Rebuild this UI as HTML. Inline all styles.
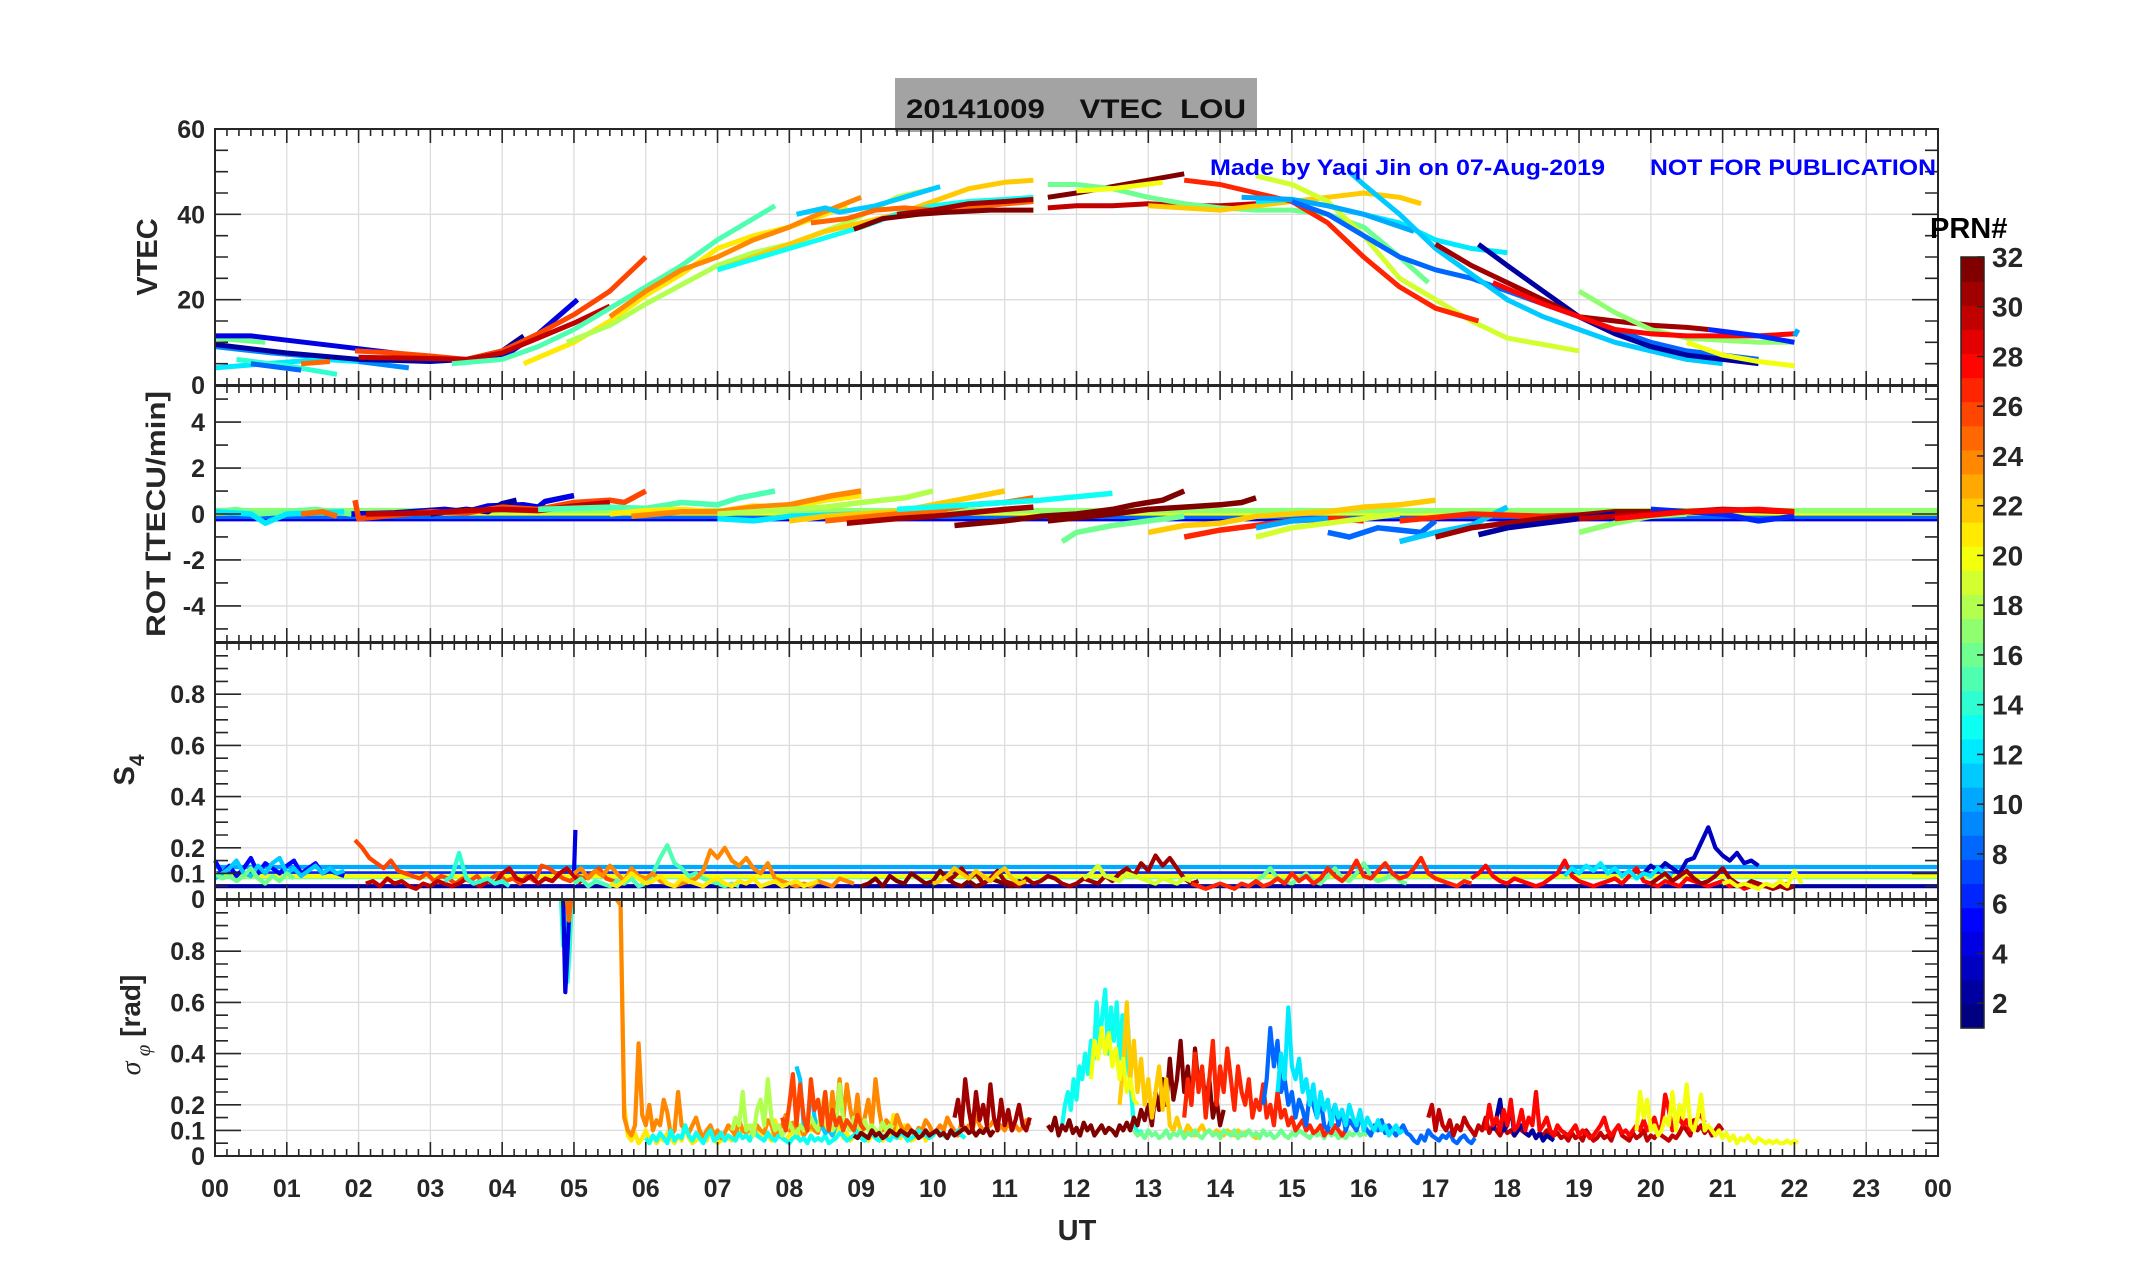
<!DOCTYPE html>
<html><head><meta charset="utf-8"><title>20141009 VTEC LOU</title>
<style>
html,body{margin:0;padding:0;background:#fff;}
svg{display:block;font-family:"Liberation Sans",Arial,sans-serif;}
</style></head>
<body>
<svg id="chart" width="2153" height="1286" viewBox="0 0 2153 1286" xmlns="http://www.w3.org/2000/svg">
<rect width="2153" height="1286" fill="#fff"/>
<rect x="895" y="78" width="362" height="54" fill="#a3a3a3"/>
<text x="906" y="118" font-size="27" font-weight="bold" fill="#111" textLength="340" lengthAdjust="spacingAndGlyphs" xml:space="preserve">20141009    VTEC  LOU</text>
<g id="grid"></g>
<g id="series"></g>
<g id="axes"></g>
<text x="1210" y="175" font-size="22" font-weight="bold" fill="#0000ff" textLength="395" lengthAdjust="spacingAndGlyphs">Made by Yaqi Jin on 07-Aug-2019</text>
<text x="1650" y="175" font-size="22" font-weight="bold" fill="#0000ff" textLength="286" lengthAdjust="spacingAndGlyphs">NOT FOR PUBLICATION</text>
<text transform="translate(157,257) rotate(-90)" text-anchor="middle" font-size="29" font-weight="bold" fill="#262626">VTEC</text>
<text transform="translate(165,514) rotate(-90)" text-anchor="middle" font-size="27" font-weight="bold" fill="#262626" textLength="246" lengthAdjust="spacingAndGlyphs">ROT [TECU/min]</text>
<text transform="translate(134,770) rotate(-90)" text-anchor="middle" font-size="29" font-weight="bold" fill="#262626">S<tspan font-size="21" dy="10">4</tspan></text>
<text transform="translate(140,1025) rotate(-90)" text-anchor="middle" font-size="28" fill="#262626"><tspan font-family="Liberation Serif,serif" font-style="italic">σ</tspan><tspan font-family="Liberation Serif,serif" font-style="italic" font-size="21" dy="10"> φ</tspan><tspan dy="-10" font-weight="bold"> [rad]</tspan></text>
<text x="1077" y="1240" text-anchor="middle" font-size="29" font-weight="bold" fill="#262626">UT</text>
<text x="1930" y="238" font-size="29" font-weight="bold" fill="#000">PRN#</text>
<g id="cbar"></g>
</svg>
<script>
// ---------- data ----------
const hourLabels = ['00','01','02','03','04','05','06','07','08','09','10','11','12','13','14','15','16','17','18','19','20','21','22','23','00'];
const vtecTicks = [0,20,40,60];
const rotTicks = [-4,-2,0,2,4];
const s4Ticks = [0,0.1,0.2,0.4,0.6,0.8];
const sigTicks = [0,0.1,0.2,0.4,0.6,0.8];
const prnTicks = [2,4,6,8,10,12,14,16,18,20,22,24,26,28,30,32];

// VTEC arcs: [prn, [[hour,value],...]]
const vtecArcs = [
 [16,[[0,11],[0.7,10]]],
 [9,[[0,9],[0.8,7.5],[1.5,6.5],[2,5.5],[2.7,4]]],
 [12,[[0,4],[0.7,5],[1.5,6],[2,5.5]]],
 [14,[[0.3,6],[1,4.5],[1.7,2.5]]],
 [8,[[0.5,5],[1.2,3.5]]],
 [25,[[1.2,5],[1.6,5.5]]],
 [4,[[0,11.5],[0.5,11.5],[1,10.5],[2,8.5],[3,6.5],[3.5,5.5],[4,6.5],[4.5,12],[5.05,20]]],
 [2,[[0,9.5],[1,7.5],[2,6],[3,5.5],[3.5,6],[4,8],[4.3,11.5]]],
 [26,[[1.95,8],[2.5,7.5],[3,6.8],[3.5,6],[4,8],[4.5,12],[5,16.5],[5.5,22],[6,30]]],
 [30,[[2,6.5],[3,6.2],[3.5,6],[4,7.5],[4.5,11],[5,14.5],[5.5,18.5]]],
 [15,[[3.3,5],[4,6],[4.5,9],[5,13],[5.5,18],[6,23],[6.5,28],[7,34],[7.5,39],[7.8,42]]],
 [21,[[4.3,5],[5,10],[5.5,15],[6,21],[6.5,26],[7,32],[7.5,35],[8,37],[8.5,40],[8.8,42]]],
 [18,[[4.9,10],[5.5,14],[6,19],[6.5,23.5],[7,28],[7.5,31],[8,33],[8.8,38],[9.5,44],[10,46]]],
 [24,[[5.5,16],[6,22],[6.5,27],[7,30],[7.5,34],[8,37],[8.4,40],[8.7,42],[9,44]]],
 [22,[[7,27],[7.5,30],[8,33],[8.5,36],[9,38],[9.5,40],[10,43],[10.5,46],[11,47.5],[11.4,48]]],
 [13,[[7,27],[8,32],[9,37],[9.5,40],[10,42],[10.5,43],[11,43.5],[11.4,44]]],
 [11,[[8.1,40],[8.5,41.5],[8.7,40.5],[9.2,42],[9.6,44],[10.1,46.5]]],
 [25,[[8.3,38],[8.8,39],[9.2,41],[9.6,41.5],[10,41],[10.7,42],[11.4,43]]],
 [31,[[9.5,40],[10,41],[10.5,42.5],[11,43],[11.4,43.5]]],
 [32,[[8.9,36.5],[9.3,39],[9.8,40],[10.2,40.5],[10.8,41],[11.4,41]]],
 [32,[[11.6,44],[12,45],[12.5,46.5],[13,48],[13.5,49.5]]],
 [30,[[11.6,41.5],[12,42],[12.5,42],[13,42.5],[13.5,42],[14,42],[14.5,42.5]]],
 [16,[[11.6,47],[12,47],[12.5,46],[13,44],[13.5,42.5],[14,41.5],[14.5,41],[15,41],[15.5,40],[16,37],[16.5,30],[16.9,24]]],
 [20,[[12,45.5],[12.5,46],[13.2,47.5]]],
 [22,[[13,42],[14,41],[14.5,42],[15,43],[15.5,44],[16,45],[16.5,44],[16.8,42.5]]],
 [19,[[14.5,49],[15,47],[15.5,43],[16,35],[16.5,25],[17,20],[17.5,15],[18,11],[19,8]]],
 [27,[[13.5,48],[14,47],[14.5,45],[15,43],[15.5,38],[16,30],[16.5,23],[17,18],[17.6,15]]],
 [12,[[14.5,43],[15,43.5],[15.5,42],[16,40],[16.5,38],[17,34],[17.5,32],[18,31]]],
 [10,[[14.3,44],[15,43.5],[15.5,42],[16,40],[16.7,36]]],
 [8,[[15,43],[15.5,40],[16,35],[16.5,30],[17,27],[17.5,25],[18,22],[18.5,19],[19,16],[19.5,13],[20,10],[20.5,8],[21,7],[21.5,6]]],
 [11,[[15.8,50],[16,47],[16.5,40],[17,32],[17.5,26],[18,20],[18.5,16],[19,13],[19.5,10],[20,8],[20.5,6],[21,5]]],
 [2,[[17.6,33],[18,28],[18.5,22],[19,16],[19.5,12],[20,9],[20.5,7],[21,6],[21.5,5]]],
 [31,[[17,33],[17.5,28],[18,24],[18.5,20],[19,16],[19.5,15],[20,14],[20.5,13.5],[20.8,13]]],
 [17,[[19,22],[19.5,17],[20,13],[20.5,11],[21,10.5],[21.5,10],[22,10]]],
 [20,[[20.5,10],[21,7],[21.5,5.5],[22,4.5]]],
 [28,[[17.8,24],[18.5,19],[19,16],[19.5,13],[20,12],[20.5,11.5],[21,11.5],[21.5,11.5],[22,12]]],
 [6,[[20.8,13],[21.5,11.5],[22,10]]],
 [10,[[22,11.5],[22.05,13]]]
];

// ROT arcs: [prn, [[hour,value],...]]
const rotArcs = [
 [4,[[0,-0.2],[24,-0.2]]],
 [8,[[0,-0.1],[24,-0.1]]],
 [20,[[0,0.05],[24,0.05]]],
 [17,[[0,0.15],[24,0.15]]],
 [16,[[0,0.1],[0.3,0.2],[0.6,0],[1,0.1],[1.4,0.2],[1.9,0]]],
 [12,[[0,0.1],[0.5,0],[0.7,-0.4],[1,0],[1.8,0.1]]],
 [25,[[1.2,0],[1.5,0.1],[1.7,-0.1]]],
 [4,[[1.9,0],[2.5,0.05],[3.2,0.2],[3.5,0.1],[3.8,0.35],[4.3,0.4],[4.5,0.3],[4.6,0.55],[5,0.8]]],
 [2,[[3,0],[3.5,0.2],[3.8,0.1],[4,0.45],[4.2,0.6]]],
 [26,[[1.95,0.6],[2,-0.2],[3,0.1],[3.5,0.05],[4,0.3],[4.5,0.2],[5,0.5],[5.5,0.6],[5.7,0.5],[6,1]]],
 [30,[[2.1,0],[3,0.05],[3.5,0.15],[4,0.2],[4.5,0.15],[5,0.35],[5.5,0.5]]],
 [15,[[4.5,0.2],[5.5,0.3],[6,0.25],[6.5,0.5],[7,0.4],[7.3,0.7],[7.8,1]]],
 [21,[[5.5,0],[6,0.15],[6.5,0.2],[7,0.1],[7.5,0.35],[8,0.3],[8.5,0.6],[9,0.8]]],
 [24,[[5.8,-0.1],[6.5,0.1],[7,0.1],[7.5,0.3],[8,0.4],[8.6,0.8],[9,1]]],
 [18,[[7,0],[7.5,0.1],[8,0.2],[8.5,0.3],[9,0.5],[9.6,0.7],[10,1]]],
 [12,[[7,-0.2],[7.5,-0.3],[8,-0.1],[9,0]]],
 [22,[[8,-0.3],[8.5,-0.1],[9,0],[9.5,0.1],[10,0.4],[10.5,0.7],[11,1]]],
 [25,[[8.5,-0.3],[9.5,0],[10,0.1],[10.5,0.4],[11,0.5],[11.4,0.7]]],
 [13,[[9.5,0.2],[10.5,0.4],[11.5,0.6],[12.5,0.9]]],
 [31,[[8.8,-0.4],[9.5,-0.2],[10,-0.1],[11,0.2],[11.4,0.3]]],
 [32,[[10.3,-0.5],[11,-0.3],[11.5,-0.1],[12,0],[12.5,0.2],[12.8,0.4],[13.2,0.6],[13.5,1]]],
 [32,[[11.6,-0.3],[12.5,0],[13,0.2],[13.5,0.3],[14,0.4],[14.3,0.5],[14.5,0.7]]],
 [16,[[11.8,-1.2],[12,-0.8],[12.5,-0.5],[13,-0.3],[13.5,-0.1]]],
 [22,[[13,-0.8],[13.5,-0.5],[14,-0.4],[14.5,-0.1],[15,0],[15.5,0.1],[16,0.3],[16.5,0.4],[17,0.6]]],
 [27,[[13.5,-1],[14,-0.7],[14.5,-0.5],[15,-0.3],[15.6,-0.2],[16,-0.3]]],
 [10,[[14.5,-0.6],[15,-0.3],[15.5,-0.2]]],
 [19,[[14.5,-1],[15,-0.6],[15.5,-0.4],[16,-0.2],[16.5,0]]],
 [8,[[15.5,-0.8],[15.8,-1],[16.2,-0.6],[16.8,-0.8],[17,-0.3]]],
 [11,[[16.5,-1.2],[17,-0.8],[17.5,-0.5],[18,0.3]]],
 [27,[[16.5,-0.3],[17.5,0],[18.5,-0.1],[19.5,0]]],
 [31,[[17,-1],[17.5,-0.6],[18,-0.4],[18.5,-0.2],[19.5,0.1],[20,0.1]]],
 [2,[[17.6,-0.9],[18,-0.6],[19,-0.2],[19.5,0]]],
 [17,[[19,-0.8],[19.5,-0.4],[20,-0.1],[20.5,0]]],
 [6,[[20,0.2],[21,0],[21.5,-0.3],[22,-0.1]]],
 [30,[[19,-0.2],[20,0],[21,0.2],[22,0.1]]],
 [28,[[19.5,-0.2],[20.5,0.1],[21.5,0.2],[22,0.1]]]
];

// S4 series: [prn, startHour, stepHour, values]
const s4Series = [
 [2,0,24,[0.05,0.05]],
 [6,0,24,[0.1,0.1]],
 [10,0,24,[0.125,0.125]],
 [16,0,24,[0.085,0.085]],
 [20,0,24,[0.09,0.09]],
 [5,0,0.1,[0.15,0.1,0.13,0.09,0.12,0.16,0.1,0.14,0.12,0.1,0.13,0.15,0.1,0.12,0.14,0.1,0.11,0.1,0.09]],
 [11,0,0.1,[0.08,0.1,0.12,0.15,0.1,0.09,0.13,0.1,0.14,0.16,0.1,0.12,0.09,0.11,0.13,0.1,0.12,0.1,0.11]],
 [16,0,0.1,[0.1,0.08,0.09,0.07,0.09,0.12,0.08,0.06,0.09,0.07,0.1,0.08]],
 [26,1.95,0.1,[0.23,0.2,0.16,0.14,0.12,0.15,0.11,0.1,0.09,0.08,0.1,0.07,0.09,0.08,0.06,0.08,0.07,0.09,0.06,0.08,0.1,0.07,0.08,0.06,0.09,0.07,0.13,0.12,0.1,0.08,0.07,0.09,0.08,0.1,0.12,0.08,0.07,0.06,0.08,0.1]],
 [30,2.1,0.1,[0.06,0.07,0.05,0.08,0.06,0.07,0.05,0.04,0.06,0.05,0.07,0.06,0.05,0.06,0.08,0.06,0.05,0.07,0.06,0.1,0.12,0.08,0.07,0.09,0.06,0.08,0.07,0.1,0.12,0.09,0.06]],
 [4,5.0,0.02,[0.1,0.27]],
 [14,3.2,0.1,[0.07,0.09,0.18,0.08,0.06,0.07,0.08,0.06,0.07,0.05]],
 [15,5,0.1,[0.06,0.08,0.05,0.07,0.06,0.05,0.07,0.06,0.08,0.05,0.06,0.1,0.16,0.21,0.14,0.12,0.09,0.1,0.08,0.07,0.06,0.05,0.06,0.05]],
 [24,5,0.1,[0.1,0.12,0.08,0.11,0.09,0.13,0.1,0.07,0.12,0.09,0.08,0.1,0.07,0.06,0.05,0.06,0.07,0.08,0.11,0.19,0.16,0.2,0.15,0.13,0.16,0.12,0.1,0.14,0.08,0.07,0.06,0.05,0.06,0.05,0.07,0.06,0.05,0.08,0.07,0.06]],
 [21,5.5,0.1,[0.06,0.05,0.07,0.1,0.08,0.06,0.07,0.09,0.06,0.05,0.08,0.07,0.06,0.05,0.07,0.08,0.06,0.05,0.07,0.06,0.08,0.05,0.06,0.07,0.05,0.06,0.07,0.05,0.06,0.07]],
 [32,9,0.1,[0.05,0.06,0.08,0.05,0.09,0.07,0.06,0.1,0.08,0.06,0.07,0.11,0.08,0.06,0.05,0.07,0.05,0.06,0.08,0.07,0.06,0.05,0.07,0.06]],
 [31,10.2,0.1,[0.07,0.09,0.12,0.08,0.1,0.06,0.08,0.11,0.07,0.06,0.05,0.08,0.06,0.07,0.09,0.08,0.06,0.05,0.06,0.08,0.07,0.06,0.09,0.07,0.1,0.12,0.09,0.14,0.11,0.17,0.13,0.16,0.12,0.08,0.06,0.07]],
 [22,10,0.1,[0.06,0.07,0.09,0.12,0.1,0.08,0.11,0.09,0.07,0.1,0.12,0.08,0.06,0.07]],
 [19,12.1,0.1,[0.08,0.1,0.13,0.09,0.08,0.07,0.1,0.09,0.08,0.07,0.06,0.08,0.07,0.06,0.08,0.07]],
 [16,14.5,0.1,[0.07,0.09,0.12,0.08,0.07,0.06,0.08,0.1,0.07,0.06,0.09,0.12,0.08,0.07,0.1,0.14,0.09,0.07,0.08,0.1,0.07,0.06]],
 [27,13.6,0.1,[0.06,0.05,0.04,0.05,0.06,0.05,0.04,0.06,0.05,0.07,0.05,0.06,0.08,0.06,0.1,0.07,0.09,0.06,0.08,0.12,0.09,0.07,0.1,0.15,0.09,0.08,0.11,0.14,0.1,0.08,0.09,0.12,0.16,0.1,0.08,0.07,0.06,0.05,0.07,0.06]],
 [28,17.5,0.1,[0.08,0.1,0.13,0.09,0.07,0.06,0.08,0.07,0.06,0.05,0.06,0.08,0.1,0.15,0.09,0.07,0.06,0.05,0.06,0.07,0.08,0.06,0.09,0.12,0.07,0.06,0.05,0.07,0.06,0.05,0.08,0.07,0.06,0.05,0.06,0.07,0.05,0.06,0.04,0.05,0.06,0.05,0.04,0.05,0.06]],
 [3,19.9,0.1,[0.1,0.13,0.11,0.14,0.12,0.1,0.15,0.16,0.22,0.28,0.2,0.17,0.15,0.18,0.14,0.15,0.13]],
 [12,18.8,0.1,[0.09,0.12,0.1,0.13,0.11,0.14,0.1,0.12,0.09,0.11,0.08,0.1,0.09,0.12,0.1,0.09]],
 [31,20,0.1,[0.06,0.08,0.1,0.07,0.09,0.11,0.08,0.06,0.07,0.09,0.12,0.08,0.06,0.05,0.07,0.06,0.05,0.04,0.05,0.04,0.05]],
 [20,21,0.1,[0.06,0.07,0.05,0.06,0.05,0.04,0.06,0.05,0.07,0.05,0.11,0.06]]
];

// sigma-phi series: [prn, startHour, stepHour, values]
const sigSeries = [
 [14,4.82,0.03,[1,0.82,0.95,0.68,0.8,1]],
 [4,4.85,0.03,[1,0.64,0.8,1]],
 [25,4.9,0.03,[1,0.92,1]],
 [21,5.65,0.05,[0.95,0.2,0.08,0.06,0.09,0.05,0.07,0.1,0.06,0.08,0.05,0.07,0.06,0.09,0.07,0.05,0.08,0.06,0.12,0.07,0.05,0.06,0.1,0.08,0.06,0.11,0.07,0.05,0.06,0.08,0.07,0.06,0.09,0.1,0.07,0.08,0.06,0.12,0.09,0.07,0.1,0.08,0.06,0.14,0.09,0.07,0.06,0.08,0.1,0.07,0.09,0.11,0.12,0.1,0.14,0.12,0.15,0.1,0.12,0.08,0.1,0.13,0.07,0.09,0.06,0.08,0.1,0.12,0.07,0.06,0.08,0.1,0.07,0.06,0.09,0.07,0.16,0.1,0.07,0.12,0.08,0.06,0.07,0.08,0.1,0.06,0.09,0.07]],
 [24,5.6,0.05,[1,0.98,0.15,0.1,0.08,0.12,0.44,0.16,0.12,0.2,0.1,0.14,0.12,0.22,0.17,0.08,0.1,0.25,0.12,0.1,0.09,0.12,0.15,0.1,0.07,0.1,0.12,0.08,0.1,0.07,0.09,0.12,0.1,0.08,0.14,0.1,0.09,0.11,0.08,0.12,0.1,0.09,0.14,0.12,0.08,0.1,0.12,0.16,0.1,0.13,0.09,0.12,0.08,0.1,0.12,0.1,0.09,0.14,0.22,0.1,0.25,0.12,0.3,0.14,0.28,0.18,0.12,0.24,0.1,0.15,0.22,0.12,0.3,0.18,0.1,0.14,0.12,0.1,0.16,0.12,0.09,0.12,0.1,0.08,0.11,0.1,0.14,0.12,0.09,0.1,0.12,0.1,0.15,0.12,0.1,0.08,0.13,0.1,0.12,0.1,0.16,0.12,0.1,0.11,0.12,0.14,0.1,0.12,0.1,0.13,0.1,0.12,0.1,0.11,0.14,0.12]],
 [13,6,0.05,[0.07,0.05,0.08,0.06,0.09,0.07,0.05,0.1,0.06,0.08,0.07,0.12,0.08,0.06,0.09,0.07,0.05,0.08,0.1,0.06,0.07,0.09,0.06,0.08,0.07,0.06,0.09,0.07,0.08,0.06,0.1,0.08,0.07,0.06,0.09,0.07,0.06,0.08,0.07,0.06,0.05,0.07,0.08,0.06,0.07,0.05,0.08,0.06,0.07,0.06,0.08,0.05,0.06,0.07,0.09,0.08,0.06,0.07,0.08,0.1,0.07,0.06,0.08,0.09,0.07,0.06,0.08,0.07,0.06,0.08,0.07,0.09,0.08,0.06,0.07,0.08,0.1,0.09,0.08,0.07,0.08,0.1,0.09,0.08,0.07,0.09,0.08,0.1,0.08,0.07]],
 [13,11.8,0.04,[0.12,0.2,0.25,0.18,0.3,0.22,0.35,0.3,0.4,0.32,0.45,0.38,0.6,0.42,0.55,0.65,0.4,0.58,0.45,0.6,0.38,0.55,0.3,0.5,0.25,0.12,0.1,0.09,0.1]],
 [11,8.1,0.05,[0.35,0.3,0.12,0.1,0.28,0.15,0.1,0.12,0.09,0.1,0.08,0.12]],
 [18,7.2,0.05,[0.1,0.15,0.12,0.25,0.1,0.12,0.08,0.18,0.22,0.12,0.3,0.15,0.1,0.12,0.08,0.1,0.13,0.1,0.09,0.12,0.1,0.11,0.15,0.12,0.1,0.18,0.25,0.15,0.1,0.12,0.28,0.14,0.12,0.1,0.15,0.12,0.1,0.14,0.1,0.12,0.1,0.09,0.13,0.1,0.12,0.11]],
 [26,7.9,0.05,[0.15,0.1,0.2,0.32,0.12,0.28,0.15,0.1,0.3,0.18,0.22,0.12,0.25,0.1,0.18,0.12,0.15,0.1,0.14,0.12,0.1,0.16,0.12,0.1]],
 [32,8.9,0.05,[0.08,0.07,0.09,0.08,0.07,0.1,0.08,0.09,0.07,0.08,0.1,0.09,0.08,0.1,0.09,0.08,0.1,0.09,0.07,0.08,0.1,0.08,0.09,0.1,0.08,0.09,0.07,0.1,0.08,0.09,0.1,0.11,0.09,0.1,0.08,0.1,0.09,0.11,0.08,0.1]],
 [31,10.3,0.05,[0.15,0.22,0.12,0.3,0.18,0.1,0.25,0.14,0.2,0.12,0.28,0.15,0.1,0.22,0.12,0.18,0.1,0.14,0.2,0.12,0.1,0.15]],
 [32,11.6,0.05,[0.12,0.1,0.15,0.08,0.12,0.1,0.14,0.09,0.11,0.08,0.13,0.1,0.12,0.08,0.1,0.12,0.09,0.11,0.1,0.08,0.12,0.1,0.13,0.1,0.15,0.12,0.18,0.14,0.2,0.12,0.25,0.18,0.3,0.2,0.38,0.22,0.3,0.45,0.25,0.35,0.2,0.42,0.28,0.34,0.2,0.3,0.15,0.22,0.12,0.18]],
 [22,12.6,0.05,[0.2,0.35,0.6,0.3,0.45,0.25,0.38,0.2,0.3,0.15,0.25,0.35,0.18,0.3,0.12,0.1,0.15,0.1,0.08,0.12,0.1,0.08,0.1,0.12,0.09,0.1,0.08,0.1,0.09,0.08,0.1,0.09,0.08,0.1,0.08,0.09,0.1,0.08,0.07,0.09]],
 [20,12.2,0.05,[0.3,0.45,0.38,0.5,0.4,0.48,0.35,0.42,0.3,0.38,0.25,0.3,0.22,0.2]],
 [16,12.8,0.05,[0.1,0.08,0.09,0.07,0.1,0.08,0.09,0.07,0.08,0.1,0.07,0.09,0.08,0.1,0.07,0.09,0.08,0.1,0.08,0.07,0.09,0.1,0.08,0.09,0.07,0.1,0.09,0.08,0.1,0.07,0.09,0.08,0.1,0.08,0.09,0.07,0.1,0.08,0.09,0.07,0.08,0.1,0.08,0.07,0.09,0.08,0.1,0.09,0.08,0.07,0.09,0.08,0.09,0.07,0.1,0.08,0.09,0.07,0.08,0.07,0.09,0.08,0.1,0.08,0.09,0.08]],
 [27,13.5,0.05,[0.15,0.3,0.2,0.4,0.25,0.35,0.15,0.3,0.45,0.2,0.35,0.25,0.42,0.3,0.18,0.35,0.25,0.2,0.3,0.15,0.22,0.18,0.28,0.15,0.2,0.12,0.25,0.15,0.18,0.12,0.15,0.1,0.12,0.14,0.1,0.12,0.09,0.1,0.12,0.08,0.1,0.09,0.12,0.1,0.08,0.1]],
 [8,14.6,0.05,[0.2,0.3,0.5,0.35,0.45,0.25,0.3,0.2,0.25,0.15,0.22,0.18,0.12,0.25,0.2,0.15,0.22,0.12,0.1,0.15,0.2,0.12,0.18,0.1,0.14,0.12,0.1,0.15,0.12,0.1,0.08,0.12,0.1,0.14,0.09,0.12,0.1,0.08,0.1,0.12,0.09,0.08,0.06,0.05,0.08,0.06,0.1,0.08,0.07,0.06,0.08,0.07,0.09,0.06,0.05,0.07,0.08,0.06,0.05,0.07]],
 [12,14.8,0.05,[0.25,0.4,0.3,0.58,0.35,0.3,0.38,0.25,0.3,0.2,0.28,0.15,0.25,0.18,0.22,0.12,0.2,0.15,0.18,0.12,0.2,0.15,0.12,0.18,0.1,0.15,0.12,0.1,0.14,0.1,0.12,0.08,0.1,0.12,0.09,0.1]],
 [30,16.9,0.05,[0.15,0.2,0.1,0.18,0.12,0.1,0.14,0.08,0.12,0.1,0.15,0.12,0.1,0.08,0.12,0.1,0.15,0.09,0.12,0.1,0.08,0.11,0.09,0.1,0.08,0.12,0.1,0.09,0.08,0.1,0.07,0.09,0.08,0.1,0.07,0.08,0.09,0.07,0.08,0.06,0.09,0.07,0.08,0.06,0.1,0.08,0.06,0.07,0.09,0.07,0.08,0.06,0.1,0.12,0.08,0.07,0.06,0.09,0.07,0.08,0.1,0.06,0.08,0.07,0.09,0.08,0.07,0.06,0.08,0.07,0.09,0.12,0.1,0.08,0.14,0.1,0.12,0.09,0.11,0.08,0.1,0.12,0.1]],
 [2,17.8,0.05,[0.1,0.15,0.22,0.1,0.12,0.2,0.08,0.1,0.12,0.09,0.08,0.1,0.07,0.09,0.06,0.08,0.07,0.06]],
 [28,17.7,0.05,[0.1,0.2,0.12,0.15,0.1,0.18,0.12,0.22,0.1,0.12,0.18,0.1,0.15,0.12,0.25,0.1,0.12,0.15,0.1,0.08,0.12,0.1,0.09,0.08,0.1,0.12,0.08,0.1,0.09,0.07,0.08,0.1,0.12,0.15,0.1,0.08,0.1,0.12,0.09,0.1,0.08,0.1,0.12,0.1,0.14,0.1,0.12,0.15,0.1,0.12,0.24,0.18,0.1,0.12,0.15,0.12,0.14,0.1,0.12,0.15,0.16,0.13]],
 [20,19.8,0.05,[0.1,0.25,0.15,0.22,0.1,0.12,0.08,0.1,0.15,0.12,0.25,0.1,0.2,0.15,0.28,0.12,0.1,0.15,0.24,0.1,0.12,0.1,0.08,0.1,0.07,0.09,0.06,0.08,0.05,0.07,0.06,0.08,0.06,0.05,0.07,0.06,0.05,0.06,0.05,0.06,0.05,0.05,0.06,0.05,0.06,0.05]]
];

// ---------- scales ----------
const X0=215, X1=1938, HOURS=24;
const panels = [
 {name:'vtec', top:129, bot:385, min:0, max:60, minor:5},
 {name:'rot', top:386, bot:642, min:-5.57, max:5.57, minor:1},
 {name:'s4', top:643, bot:899, min:0, max:1, minor:0.05},
 {name:'sigma', top:900, bot:1156, min:0, max:1, minor:0.05}
];
function xS(h){return X0 + h*(X1-X0)/HOURS;}
function yS(p,v){return p.bot - (v-p.min)/(p.max-p.min)*(p.bot-p.top);}
function jet(prn){
 const t=(prn-1)/31;
 const c=x=>Math.round(255*Math.max(0,Math.min(1,x)));
 return 'rgb('+c(1.5-Math.abs(4*t-3))+','+c(1.5-Math.abs(4*t-2))+','+c(1.5-Math.abs(4*t-1))+')';
}
const NS='http://www.w3.org/2000/svg';
function mk(tag,attrs,parent){const e=document.createElementNS(NS,tag);for(const k in attrs)e.setAttribute(k,attrs[k]);parent.appendChild(e);return e;}
const gGrid=document.getElementById('grid'), gSer=document.getElementById('series'), gAx=document.getElementById('axes'), gCb=document.getElementById('cbar');

const majorTicks=[vtecTicks,rotTicks,s4Ticks,sigTicks];
panels.forEach((p,pi)=>{
 for(let h=1;h<HOURS;h++){
  const l=mk('line',{x1:xS(h),x2:xS(h),y1:p.top,y2:p.bot,stroke:'#dcdcdc','stroke-width':1.3},gGrid);
  
  
 }
 majorTicks[pi].forEach(v=>{
  const l=mk('line',{x1:X0,x2:X1,y1:yS(p,v),y2:yS(p,v),stroke:'#dcdcdc','stroke-width':1.3},gGrid);
  
  
 });
 const fr=mk('rect',{x:X0,y:p.top,width:X1-X0,height:p.bot-p.top,fill:'none',stroke:'#262626','stroke-width':2},gAx);
 
 
 let d='';
 for(let m=0;m<=HOURS*6;m++){
  const h=m/6, x=xS(h), len=(m%6===0)?14:7;
  d+='M'+x+' '+p.top+'v'+len+'M'+x+' '+p.bot+'v'+(-len);
 }
 for(let k=Math.ceil(p.min/p.minor);k*p.minor<=p.max+1e-9;k++){
  const v=k*p.minor, y=yS(p,v);
  const isMaj=majorTicks[pi].some(t=>Math.abs(t-v)<1e-6);
  const len=isMaj?26:13;
  d+='M'+X0+' '+y+'h'+len+'M'+X1+' '+y+'h'+(-len);
 }
 const tk=mk('path',{d:d,stroke:'#262626','stroke-width':1.6,fill:'none'},gAx);
 
 
 majorTicks[pi].forEach(v=>{
  const t=mk('text',{x:205,y:yS(p,v)+9,'text-anchor':'end','font-size':25,'font-weight':'bold',fill:'#262626'},gAx);
  t.textContent=String(v);
  
  
 });
});
hourLabels.forEach((lab,i)=>{
 const t=mk('text',{x:xS(i),y:1197,'text-anchor':'middle','font-size':25,'font-weight':'bold',fill:'#262626'},gAx);
 t.textContent=lab;
 
 
});

function drawPts(p,prn,pts,w,name){
 const d=pts.map((q,i)=>(i?'L':'M')+xS(q[0]).toFixed(1)+' '+yS(p,Math.max(p.min,Math.min(p.max,q[1]))).toFixed(1)).join('');
 const e=mk('path',{d:d,stroke:jet(prn),'stroke-width':w,fill:'none','stroke-linejoin':'round','stroke-linecap':'butt'},gSer);
 
 
}
vtecArcs.forEach(a=>drawPts(panels[0],a[0],a[1],5,'vtec-arc'));
rotArcs.forEach(a=>drawPts(panels[1],a[0],a[1],5.5,'rot-arc'));
s4Series.forEach(s=>drawPts(panels[2],s[0],s[3].map((v,i)=>[s[1]+i*s[2],v]),4.2,'s4-series'));
sigSeries.forEach(s=>drawPts(panels[3],s[0],s[3].map((v,i)=>[s[1]+i*s[2],v]),4.2,'sigma-series'));

const CB={x:1961,w:23,top:257,bot:1028,min:1,max:32};
for(let k=0;k<32;k++){
 const h=(CB.bot-CB.top)/32;
 const r=mk('rect',{x:CB.x,y:CB.bot-(k+1)*h,width:CB.w,height:h+0.6,fill:jet(k+1)},gCb);
 
 
}
const cbf=mk('rect',{x:CB.x,y:CB.top,width:CB.w,height:CB.bot-CB.top,fill:'none',stroke:'#262626','stroke-width':1.5},gCb);


prnTicks.forEach(v=>{
 const y=CB.bot-(v-CB.min)/(CB.max-CB.min)*(CB.bot-CB.top);
 const l=mk('line',{x1:CB.x+CB.w-7,x2:CB.x+CB.w,y1:y,y2:y,stroke:'#262626','stroke-width':1.5},gCb);
 
 
 const t=mk('text',{x:1992,y:y+10,'font-size':28,'font-weight':'bold',fill:'#262626'},gCb);
 t.textContent=String(v);
 
 
});
</script>
</body></html>
